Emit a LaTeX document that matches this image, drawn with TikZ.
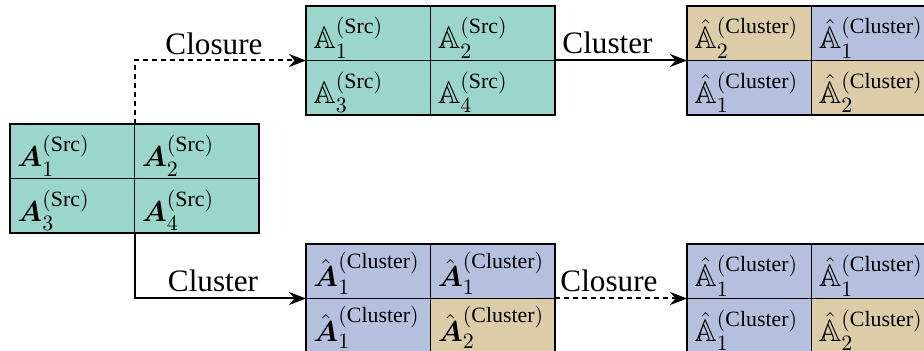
\documentclass[tikz,border=0pt]{standalone}
\usepackage{amsmath,amssymb}
\usepackage{fontspec}
\setmainfont{Liberation Serif}
\usetikzlibrary{arrows.meta}
\definecolor{cteal}{HTML}{9AD6CC}
\definecolor{ctan}{HTML}{DCCCA8}
\definecolor{cblue}{HTML}{B4C0DE}
\begin{document}
\begin{tikzpicture}[x=0.5pt,y=-0.5pt,
  cell/.style={draw=black, line width=0.9pt, minimum width=62.25pt, minimum height=27.25pt, anchor=north west, inner sep=0pt, outer sep=0pt},
  tcell/.style={cell, fill=cteal},
  ncell/.style={cell, fill=ctan},
  bcell/.style={cell, fill=cblue},
  txt/.style={anchor=base west, inner sep=0pt, font=\fontsize{15.6}{18}\selectfont},
  lbl/.style={anchor=base, inner sep=0pt, font=\fontsize{15.6}{18}\selectfont},
  conn/.style={line width=1pt, -{Stealth[length=8.5pt,width=6.5pt]}},
  conndash/.style={conn, dash pattern=on 2.5pt off 2pt}]
\clip (0,0) rectangle (924,351);
% left grid
\node[tcell] (L1) at (10,124) {};
\node[tcell] (L2) at (134.5,124) {};
\node[tcell] (L3) at (10,178.5) {};
\node[tcell] (L4) at (134.5,178.5) {};
\node[txt] (tL1) at ([shift={(7,-11.5)}]L1.south west) {$\boldsymbol{A}_1^{(\text{Src})}$};
\node[txt] (tL2) at ([shift={(7,-11.5)}]L2.south west) {$\boldsymbol{A}_2^{(\text{Src})}$};
\node[txt] (tL3) at ([shift={(7,-11.5)}]L3.south west) {$\boldsymbol{A}_3^{(\text{Src})}$};
\node[txt] (tL4) at ([shift={(7,-11.5)}]L4.south west) {$\boldsymbol{A}_4^{(\text{Src})}$};
% top middle grid
\node[tcell] (TM1) at (306,6) {};
\node[tcell] (TM2) at (430.5,6) {};
\node[tcell] (TM3) at (306,60.5) {};
\node[tcell] (TM4) at (430.5,60.5) {};
\node[txt] (tTM1) at ([shift={(7,-11.5)}]TM1.south west) {$\mathbb{A}_1^{(\text{Src})}$};
\node[txt] (tTM2) at ([shift={(7,-11.5)}]TM2.south west) {$\mathbb{A}_2^{(\text{Src})}$};
\node[txt] (tTM3) at ([shift={(7,-11.5)}]TM3.south west) {$\mathbb{A}_3^{(\text{Src})}$};
\node[txt] (tTM4) at ([shift={(7,-11.5)}]TM4.south west) {$\mathbb{A}_4^{(\text{Src})}$};
% top right grid
\node[ncell] (TR1) at (687,6) {};
\node[bcell] (TR2) at (811.5,6) {};
\node[bcell] (TR3) at (687,60.5) {};
\node[ncell] (TR4) at (811.5,60.5) {};
\node[txt] (tTR1) at ([shift={(7,-11.5)}]TR1.south west) {$\hat{\mathbb{A}}_2^{(\text{Cluster})}$};
\node[txt] (tTR2) at ([shift={(7,-11.5)}]TR2.south west) {$\hat{\mathbb{A}}_1^{(\text{Cluster})}$};
\node[txt] (tTR3) at ([shift={(7,-11.5)}]TR3.south west) {$\hat{\mathbb{A}}_1^{(\text{Cluster})}$};
\node[txt] (tTR4) at ([shift={(7,-11.5)}]TR4.south west) {$\hat{\mathbb{A}}_2^{(\text{Cluster})}$};
% bottom middle grid
\node[bcell] (BM1) at (306,244) {};
\node[bcell] (BM2) at (430.5,244) {};
\node[bcell] (BM3) at (306,298.5) {};
\node[ncell] (BM4) at (430.5,298.5) {};
\node[txt] (tBM1) at ([shift={(7,-11.5)}]BM1.south west) {$\hat{\boldsymbol{A}}_1^{(\text{Cluster})}$};
\node[txt] (tBM2) at ([shift={(7,-11.5)}]BM2.south west) {$\hat{\boldsymbol{A}}_1^{(\text{Cluster})}$};
\node[txt] (tBM3) at ([shift={(7,-11.5)}]BM3.south west) {$\hat{\boldsymbol{A}}_1^{(\text{Cluster})}$};
\node[txt] (tBM4) at ([shift={(7,-11.5)}]BM4.south west) {$\hat{\boldsymbol{A}}_2^{(\text{Cluster})}$};
% bottom right grid
\node[bcell] (BR1) at (687,244) {};
\node[bcell] (BR2) at (811.5,244) {};
\node[bcell] (BR3) at (687,298.5) {};
\node[ncell] (BR4) at (811.5,298.5) {};
\node[txt] (tBR1) at ([shift={(7,-11.5)}]BR1.south west) {$\hat{\mathbb{A}}_1^{(\text{Cluster})}$};
\node[txt] (tBR2) at ([shift={(7,-11.5)}]BR2.south west) {$\hat{\mathbb{A}}_1^{(\text{Cluster})}$};
\node[txt] (tBR3) at ([shift={(7,-11.5)}]BR3.south west) {$\hat{\mathbb{A}}_1^{(\text{Cluster})}$};
\node[txt] (tBR4) at ([shift={(7,-11.5)}]BR4.south west) {$\hat{\mathbb{A}}_2^{(\text{Cluster})}$};
% connectors
\draw[conndash] (L1.north east) |- (TM1.south west);
\draw[conn] (TM2.south east) -- (TR1.south west);
\draw[conn] (L3.south east) |- (BM1.south west);
\draw[conndash] (BM2.south east) -- (BR1.south west);
% labels
\node[lbl] (c1) at (214,55) {Closure};
\node[lbl] (c2) at (607.5,54) {Cluster};
\node[lbl] (c3) at (213,292) {Cluster};
\node[lbl] (c4) at (609,292) {Closure};
\end{tikzpicture}
\end{document}
